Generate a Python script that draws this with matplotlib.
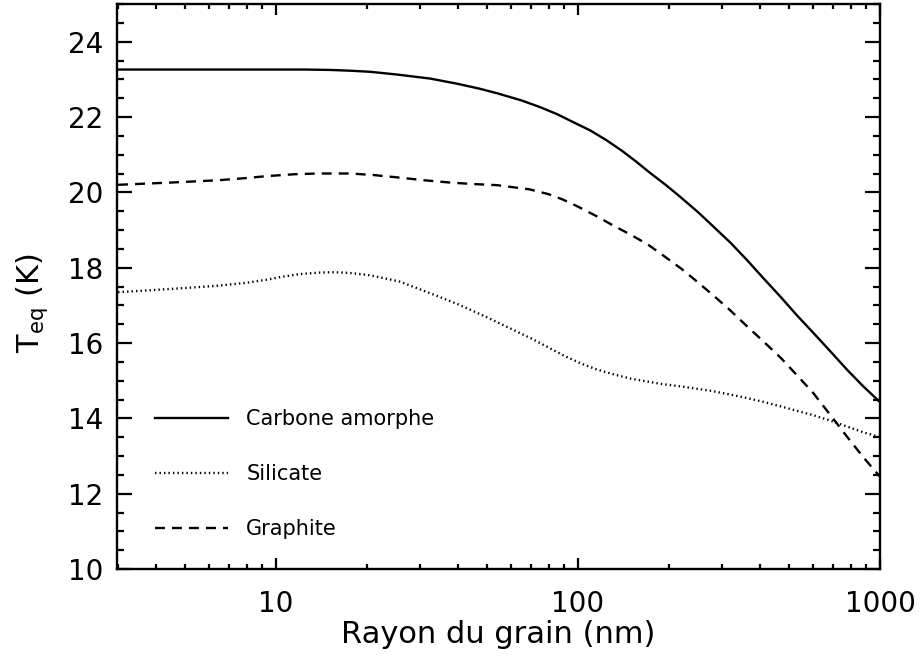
import numpy as np
import matplotlib
matplotlib.use("Agg")
import matplotlib.pyplot as plt
from matplotlib.ticker import FixedLocator, NullFormatter, MultipleLocator

# Grain radius (nm) and equilibrium temperatures (K)
x_carbone = [3, 6, 10, 12.4, 15, 17.5, 20.5, 25, 32.4, 40, 47.3, 54, 65, 75, 85, 94.4, 110, 125, 140,
             155, 173, 195, 218, 250, 280, 320, 362, 410, 468, 530, 603, 690, 780, 880, 1000]
t_carbone = [23.26, 23.26, 23.26, 23.26, 23.25, 23.23, 23.2, 23.13, 23.02, 22.88, 22.75, 22.63, 22.44,
             22.26, 22.08, 21.9, 21.64, 21.37, 21.1, 20.83, 20.52, 20.2, 19.88, 19.47, 19.1, 18.66,
             18.21, 17.73, 17.23, 16.74, 16.26, 15.75, 15.28, 14.85, 14.43]

x_silicate = [3, 4, 5, 6.4, 8, 9.3, 10.5, 12, 14, 15.6, 17.5, 20, 22.5, 25.7, 29, 33.4, 40, 48.8, 61, 70,
              79, 90, 102, 115, 131, 150, 169, 190, 218, 250, 280, 320, 362, 410, 468, 530, 603, 690,
              780, 880, 1000]
t_silicate = [17.35, 17.41, 17.46, 17.52, 17.6, 17.68, 17.76, 17.83, 17.87, 17.88, 17.86, 17.81, 17.73,
              17.63, 17.47, 17.28, 17.03, 16.72, 16.35, 16.12, 15.9, 15.66, 15.46, 15.3, 15.17, 15.05,
              14.98, 14.91, 14.85, 14.78, 14.72, 14.63, 14.54, 14.44, 14.32, 14.2, 14.08, 13.93, 13.78,
              13.63, 13.5]

x_graphite = [3, 4.5, 6.4, 8, 9.3, 11.5, 13.7, 17.6, 21, 25.7, 31, 37.7, 45, 54, 69, 80, 89, 100, 115,
              130, 149, 170, 191, 220, 247, 280, 318, 360, 410, 470, 530, 600, 683, 780, 880, 1000]
t_graphite = [20.2, 20.26, 20.32, 20.38, 20.43, 20.48, 20.5, 20.5, 20.46, 20.39, 20.32, 20.26, 20.22,
              20.19, 20.08, 19.95, 19.81, 19.62, 19.37, 19.13, 18.88, 18.62, 18.33, 17.97, 17.64, 17.27,
              16.88, 16.47, 16.05, 15.6, 15.15, 14.68, 14.1, 13.5, 12.97, 12.45]

labels = ["Carbone amorphe", "Silicate", "Graphite"]
xlabel = "Rayon du grain (nm)"
ylabel = r"T$_{\rm eq}$ (K)"
xticks_major = [10, 100, 1000]
yticks_major = [10, 12, 14, 16, 18, 20, 22, 24]

plt.rcParams['font.family'] = ['DejaVu Sans']
plt.rcParams['mathtext.fontset'] = 'dejavusans'

fig = plt.figure(figsize=(9.24, 6.68), dpi=100)
ax = fig.add_axes([117/924, 1-569/668, (880-117)/924, (569-4)/668])

lw = 1.7
l1, = ax.plot(x_carbone, t_carbone, color='black', lw=lw, linestyle='-')
l2, = ax.plot(x_silicate, t_silicate, color='black', lw=lw, linestyle=(0, (0.6, 1.3)))
l3, = ax.plot(x_graphite, t_graphite, color='black', lw=lw, linestyle=(0, (4.2, 3.0)))

ax.set_xscale('log')
ax.set_xlim(2.975, 1000)
ax.set_ylim(10, 25)

ax.xaxis.set_major_locator(FixedLocator(xticks_major))
ax.set_xticklabels([str(v) for v in xticks_major])
minors = [m * d for d in [1, 10, 100] for m in range(2, 10)]
ax.xaxis.set_minor_locator(FixedLocator(minors))
ax.xaxis.set_minor_formatter(NullFormatter())
ax.yaxis.set_major_locator(FixedLocator(yticks_major))
ax.yaxis.set_minor_locator(MultipleLocator(0.5))

ax.tick_params(axis='both', which='both', direction='in', top=True, right=True, width=1.6, labelsize=20)
ax.tick_params(axis='x', which='major', length=8, pad=15)
ax.tick_params(axis='x', which='minor', length=3.8)
ax.tick_params(axis='y', which='major', length=10.8, pad=10)
ax.tick_params(axis='y', which='minor', length=5)
for s in ax.spines.values():
    s.set_linewidth(1.7)

ax.set_xlabel(xlabel, fontsize=22)
ax.set_ylabel(ylabel, fontsize=22)
ax.xaxis.set_label_coords(0.5, -(620 - 569) / 565)
ax.yaxis.set_label_coords((50 - 117) / 763, 0.47)

leg = ax.legend([l1, l2, l3], labels, loc='upper left', bbox_to_anchor=(0.039, 0.298),
                borderaxespad=0, frameon=False, fontsize=15, handlelength=3.5,
                handletextpad=0.87, labelspacing=1.68)

fig.savefig('out.png', dpi=100)
